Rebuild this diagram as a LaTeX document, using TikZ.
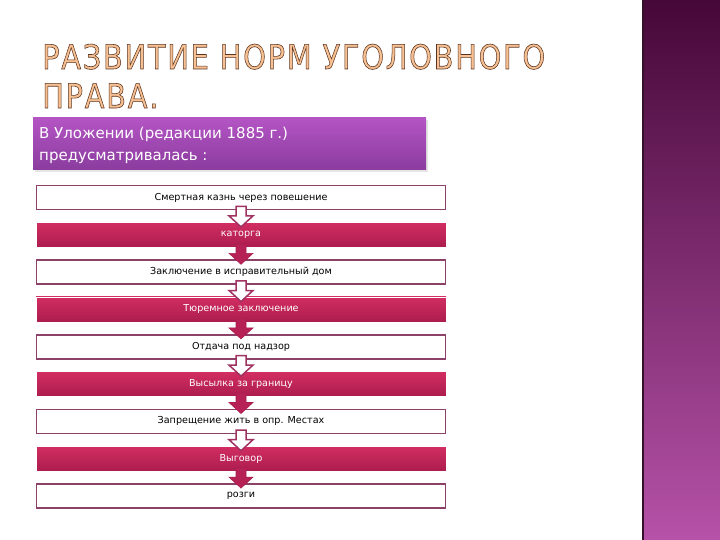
\documentclass[tikz,border=0pt]{standalone}
\usepackage{fontspec}
\setmainfont{DejaVu Sans}
\newfontfamily\titlefont[LetterSpace=6]{DejaVu Sans}
\usetikzlibrary{calc}
\definecolor{crimT}{RGB}{210,46,98}
\definecolor{crimB}{RGB}{172,28,78}
\definecolor{boxedge}{RGB}{140,66,104}
\definecolor{arrEdge}{RGB}{160,50,98}
\definecolor{arrFill}{RGB}{182,34,86}
\definecolor{hdrT}{RGB}{180,84,196}
\definecolor{hdrB}{RGB}{138,60,158}
\definecolor{panT}{RGB}{70,8,56}
\definecolor{panM}{RGB}{118,40,104}
\definecolor{panB}{RGB}{182,82,168}
\definecolor{panEdge}{RGB}{52,18,44}
\definecolor{titleFill}{RGB}{246,192,146}
\newsavebox\tboxA
\newsavebox\tboxB
\newcommand\outltext[1]{\special{pdf:literal direct 2 Tr 0.6 w 0.36 0.2 0.12 RG}#1\special{pdf:literal direct 0 Tr}}
\sbox\tboxA{\color{titleFill}\outltext{\titlefont\fontsize{34}{34}\selectfont РАЗВИТИЕ НОРМ УГОЛОВНОГО}}
\sbox\tboxB{\color{titleFill}\outltext{\titlefont\fontsize{34}{34}\selectfont ПРАВА.}}
\newcommand\blkarrow[3]{%
  \draw[#3] let \p1=(#1.south), \p2=(#2.north) in
    (\x1-5pt,\y1+4pt) -- (\x1-5pt,\y2+6pt) -- (\x1-12pt,\y2+6pt) -- (\x1,\y2-5pt)
    -- (\x1+12pt,\y2+6pt) -- (\x1+5pt,\y2+6pt) -- (\x1+5pt,\y1+4pt) -- cycle;}
\tikzset{
  wbox/.style={draw=boxedge, line width=1.6pt, fill=white, minimum width=409pt,
    minimum height=24pt, inner sep=0pt, font=\fontsize{9.6}{11}\selectfont, text=black},
  cbox/.style={draw=white, line width=0.8pt, top color=crimT, bottom color=crimB,
    minimum width=410pt, minimum height=25pt, inner sep=0pt,
    font=\fontsize{9.6}{11}\selectfont, text=white},
  outarrow/.style={draw=arrEdge, line width=1.5pt, fill=white, line join=miter},
  fillarrow/.style={draw=crimB, line width=0.6pt, fill=arrFill}
}
\begin{document}
\begin{tikzpicture}[x=1pt,y=-1pt]
\useasboundingbox (0,0) rectangle (720,540);
\fill[white] (0,0) rectangle (720,540);
% right panel
\shade[top color=panT, middle color=panM, bottom color=panB] (643,0) rectangle (720,540);
\draw[panEdge, line width=2pt] (643,0) -- (643,540);
% title
\pgfmathsetmacro\tsx{503/\the\wd\tboxA}
\pgfmathsetmacro\tsy{25/\the\ht\tboxA}
\node[anchor=base west, inner sep=0pt] (t1) at (42,69) {\scalebox{\tsx}[\tsy]{\usebox\tboxA}};
\node[anchor=base west, inner sep=0pt] (t2) at (42,108) {\scalebox{\tsx}[\tsy]{\usebox\tboxB}};
% header
\fill[black!20, opacity=0.5] (35,120) rectangle (428,172);
\node[top color=hdrT, bottom color=hdrB, minimum width=393pt, minimum height=52pt, inner sep=0pt] (hdr) at (229.5,144) {};
\node[anchor=west, align=left, text=white, inner sep=0pt,
  font=\fontsize{15}{22}\selectfont] (hdrtxt) at (39,145)
  {В Уложении (редакции 1885 г.)\\предусматривалась :};
% boxes
\node[wbox] (b1) at (241,197.5) {Смертная казнь через повешение};
\node[cbox] (b2) at (241,234.8) {каторга};
\node[wbox] (b3) at (241,272.1) {Заключение в исправительный дом};
\node[cbox] (b4) at (241,309.4) {Тюремное заключение};
\node[wbox] (b5) at (241,346.7) {Отдача под надзор};
\node[cbox] (b6) at (241,384.0) {Высылка за границу};
\node[wbox] (b7) at (241,421.3) {Запрещение жить в опр. Местах};
\node[cbox] (b8) at (241,458.6) {Выговор};
\node[wbox] (b9) at (241,495.9) {розги};
% arrows
\blkarrow{b1}{b2}{outarrow}
\blkarrow{b2}{b3}{fillarrow}
\blkarrow{b3}{b4}{outarrow}
\blkarrow{b4}{b5}{fillarrow}
\blkarrow{b5}{b6}{outarrow}
\blkarrow{b6}{b7}{fillarrow}
\blkarrow{b7}{b8}{outarrow}
\blkarrow{b8}{b9}{fillarrow}
\end{tikzpicture}
\end{document}
